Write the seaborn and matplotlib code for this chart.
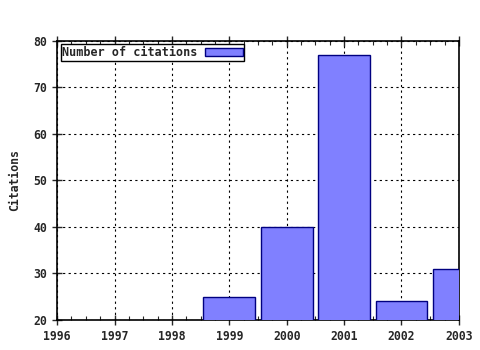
import matplotlib
matplotlib.use("Agg")
import matplotlib.pyplot as plt
import seaborn as sns
import pandas as pd
from matplotlib.ticker import MultipleLocator, AutoMinorLocator

years = [1999, 2000, 2001, 2002, 2003]
citations = [25, 40, 77, 24, 31]
series_label = "Number of citations"
y_label = "Citations"

sns.set_style("white")
plt.rcParams['font.family'] = ['DejaVu Sans Mono']
plt.rcParams['font.weight'] = 'bold'

df = pd.DataFrame({"year": years, "citations": citations})

fig = plt.figure(figsize=(4.8, 3.5), dpi=100)
ax = fig.add_axes([0.119, 0.086, 0.837, 0.797])

sns.barplot(data=df, x="year", y="citations", ax=ax, native_scale=True,
            width=0.9, color="#8080ff", saturation=1, edgecolor="#000080",
            linewidth=1, label=series_label, zorder=3)

ax.set_xlim(1996, 2003)
ax.set_ylim(20, 80)
ax.xaxis.set_major_locator(MultipleLocator(1))
ax.xaxis.set_minor_locator(AutoMinorLocator(4))
ax.yaxis.set_major_locator(MultipleLocator(10))
ax.grid(True, which="major", color="black", linestyle=(0, (2, 3)), linewidth=0.8, zorder=1)
ax.set_axisbelow(True)
for s in ax.spines.values():
    s.set_color("black")
    s.set_linewidth(1.2)
ax.tick_params(axis="x", which="major", direction="inout", length=7, width=1,
               top=True, bottom=True, labelsize=8.3, pad=4)
ax.tick_params(axis="x", which="minor", direction="in", length=3, width=0.8,
               top=True, bottom=True)
ax.tick_params(axis="y", which="major", direction="inout", length=7, width=1,
               left=True, right=False, labelsize=8.3)
ax.set_xlabel("")
ax.set_ylabel(y_label, fontsize=8.3, fontweight="bold", labelpad=9)
for lab in ax.get_xticklabels() + ax.get_yticklabels():
    lab.set_fontweight("bold")

leg = ax.legend(loc="upper left", markerfirst=False, fancybox=False,
                frameon=True, edgecolor="black", framealpha=1,
                prop={"size": 8.5, "weight": "bold"},
                borderpad=0.15, handlelength=3.2, handleheight=0.6,
                handletextpad=0.6, borderaxespad=0.3)
leg.get_frame().set_linewidth(1)

fig.savefig("out.png", dpi=100)
